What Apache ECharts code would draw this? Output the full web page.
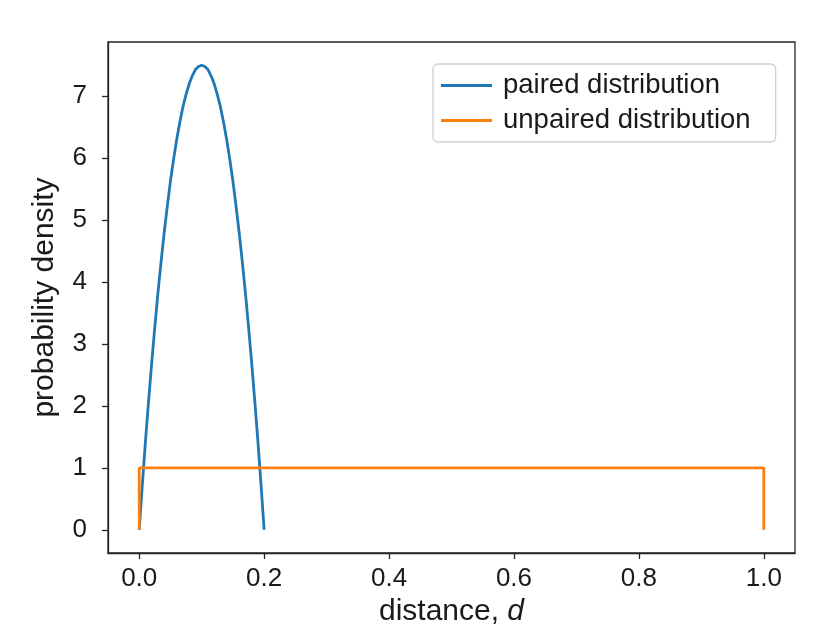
<!DOCTYPE html>
<html>
<head>
<meta charset="utf-8">
<script src="https://cdn.jsdelivr.net/npm/echarts@6/dist/echarts.min.js"></script>
<style>html,body{margin:0;padding:0;background:#fff}#c{width:836px;height:638px}</style>
</head>
<body>
<div id="c"></div>
<script>
const pairedX = [0,0.005,0.01,0.015,0.02,0.025,0.03,0.035,0.04,0.045,0.05,0.055,0.06,0.065,0.07,0.075,0.08,0.085,0.09,0.095,0.1,0.105,0.11,0.115,0.12,0.125,0.13,0.135,0.14,0.145,0.15,0.155,0.16,0.165,0.17,0.175,0.18,0.185,0.19,0.195,0.2];
const pairedY = [0,0.73,1.43,2.08,2.7,3.28,3.83,4.33,4.8,5.23,5.63,5.98,6.3,6.58,6.83,7.03,7.2,7.33,7.43,7.48,7.5,7.48,7.43,7.33,7.2,7.03,6.83,6.58,6.3,5.98,5.63,5.23,4.8,4.33,3.83,3.28,2.7,2.08,1.43,0.73,0];
const unpairedX = [0,0,1,1];
const unpairedY = [0,1,1,0];
const xTicks = [0,0.2,0.4,0.6,0.8,1.0];
const yTicks = [0,1,2,3,4,5,6,7];
const seriesNames = ['paired distribution','unpaired distribution'];

const zip = (xs, ys) => xs.map((x, i) => [x, ys[i]]);
const font = 'Liberation Sans, Arial, sans-serif';
const txt = '#1a1a1a';
const chart = echarts.init(document.getElementById('c'), null, {renderer: 'canvas'});
chart.setOption({
  animation: false,
  backgroundColor: '#fff',
  textStyle: {fontFamily: font},
  grid: {left: 108, right: 41, top: 42, bottom: 85, show: true, borderColor: '#262626', borderWidth: 1.3, containLabel: false},
  legend: {
    orient: 'vertical', left: 433, top: 64,
    padding: [6, 25, 6, 8],
    backgroundColor: '#fff', borderColor: '#d0d0d0', borderWidth: 1.3, borderRadius: 5,
    icon: 'rect',
    itemWidth: 51, itemHeight: 3, itemGap: 4,
    textStyle: {fontSize: 27.5, lineHeight: 31, color: txt, fontFamily: font, padding: [0,0,0,6]},
    data: seriesNames
  },
  xAxis: {
    type: 'value', min: -0.05, max: 1.05,
    name: '{a|distance, }{b|d}', nameLocation: 'middle', nameGap: 31,
    nameTextStyle: {rich: {a: {fontSize: 30, color: txt, fontFamily: font}, b: {fontSize: 30, color: txt, fontFamily: font, fontStyle: 'italic'}}},
    splitLine: {show: false},
    axisLine: {show: true, onZero: false, lineStyle: {color: '#262626', width: 1.3}},
    axisTick: {show: true, length: 6, lineStyle: {color: '#262626', width: 1.3}, customValues: xTicks},
    axisLabel: {fontSize: 26, color: txt, margin: 13, fontFamily: font, customValues: xTicks, formatter: v => v.toFixed(1)}
  },
  yAxis: {
    type: 'value', min: -0.375, max: 7.875,
    name: 'probability density', nameLocation: 'middle', nameGap: 48,
    nameTextStyle: {fontSize: 30, color: txt, fontFamily: font},
    splitLine: {show: false},
    axisLine: {show: true, onZero: false, lineStyle: {color: '#262626', width: 1.3}},
    axisTick: {show: true, length: 6, lineStyle: {color: '#262626', width: 1.3}, customValues: yTicks},
    axisLabel: {fontSize: 26, color: txt, margin: 21, fontFamily: font, customValues: yTicks, formatter: v => String(v)}
  },
  series: [
    {name: seriesNames[0], type: 'line', data: zip(pairedX, pairedY), symbol: 'none', showSymbol: false, lineStyle: {color: '#1f77b4', width: 2.8}, itemStyle: {color: '#1f77b4'}},
    {name: seriesNames[1], type: 'line', data: zip(unpairedX, unpairedY), symbol: 'none', showSymbol: false, lineStyle: {color: '#ff7f0e', width: 2.8}, itemStyle: {color: '#ff7f0e'}}
  ]
});
</script>
</body>
</html>
